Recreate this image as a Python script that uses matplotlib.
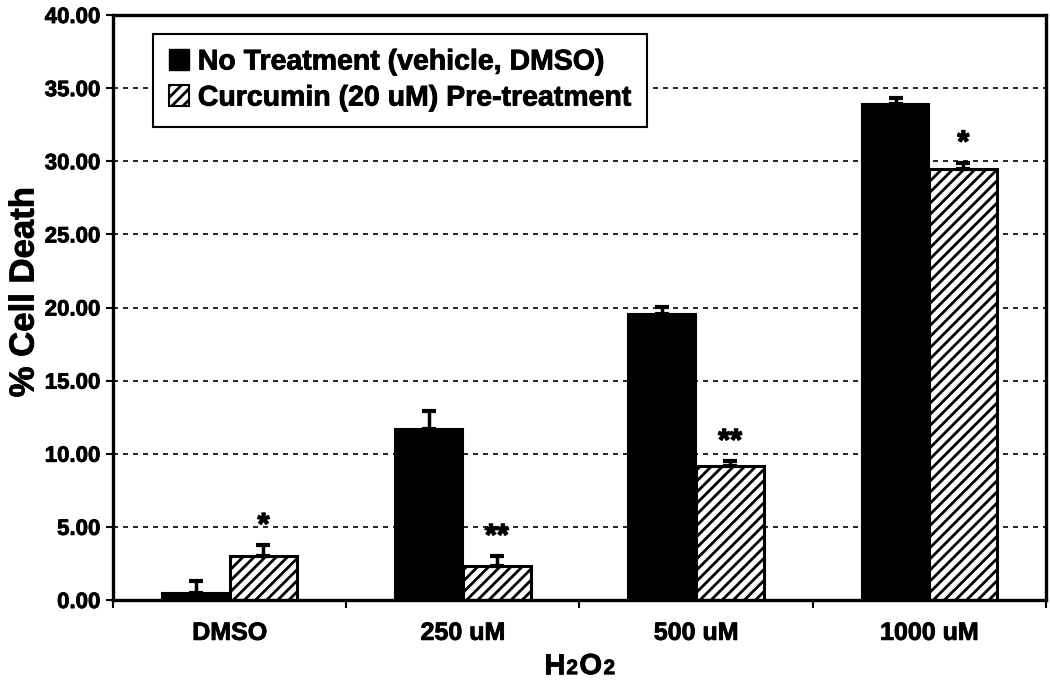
import numpy as np
import matplotlib
matplotlib.use("Agg")
import matplotlib.pyplot as plt
import matplotlib.patheffects as pe
from matplotlib.patches import Patch
from matplotlib.offsetbox import TextArea, HPacker, AnnotationBbox

plt.rcParams["font.family"] = ["Liberation Sans", "DejaVu Sans"]
plt.rcParams["font.weight"] = "bold"
plt.rcParams["hatch.linewidth"] = 2.0

# data
categories = ["DMSO", "250 uM", "500 uM", "1000 uM"]
no_treat = [0.5, 11.7, 19.55, 33.9]
no_treat_err = [0.8, 1.25, 0.5, 0.4]
curcumin = [3.0, 2.3, 9.15, 29.5]
curcumin_err = [0.75, 0.7, 0.35, 0.4]
signif = ["*", "**", "**", "*"]
yticks = [0, 5, 10, 15, 20, 25, 30, 35, 40]

heavy = [pe.withStroke(linewidth=0.6, foreground="black")]

fig = plt.figure(figsize=(10.5, 6.82), dpi=100)
ax = fig.add_axes([0.1076, 0.1202, 0.8886, 0.8578])

x = np.arange(len(categories))
w = 0.29

ax.bar(x - w / 2, no_treat, w, color="black", edgecolor="black",
       linewidth=1.5, zorder=3)
ax.bar(x + w / 2, curcumin, w, color="white", edgecolor="black",
       hatch="///", linewidth=2.2, zorder=3)

err_kw = dict(fmt="none", ecolor="black", elinewidth=2.5, capsize=5,
              capthick=3, zorder=4)
ax.errorbar(x - w / 2, no_treat, yerr=[[0] * 4, no_treat_err], **err_kw)
ax.errorbar(x + w / 2, curcumin, yerr=[[0] * 4, curcumin_err], **err_kw)

for xi, v, e, s in zip(x, curcumin, curcumin_err, signif):
    ax.annotate(s, (xi + w / 2, v + e), xytext=(0, 3),
                textcoords="offset points", ha="center", va="bottom",
                fontsize=22, fontweight="bold",
                path_effects=[pe.withStroke(linewidth=1.0,
                                            foreground="black")])

ax.set_xlim(-0.5, len(categories) - 0.5)
ax.set_ylim(0, 40)
ax.set_yticks(yticks)
ax.set_yticklabels([f"{t:.2f}" for t in yticks], fontsize=16,
                   fontweight="bold")
ax.set_xticks(x)
ax.set_xticklabels(categories, fontsize=18, fontweight="bold")
ax.set_xticks(np.arange(len(categories) + 1) - 0.5, minor=True)
ax.tick_params(axis="x", which="major", length=0, pad=15)
ax.tick_params(axis="x", which="minor", length=6, width=1.5,
               direction="out")
ax.tick_params(axis="y", length=5, width=1.5, direction="out", pad=4)
for lab in ax.get_xticklabels() + ax.get_yticklabels():
    lab.set_path_effects(heavy)

ax.yaxis.grid(True, color="black", linestyle=(0, (3, 3)), linewidth=1.2,
              zorder=0)
ax.set_axisbelow(True)
for sp in ax.spines.values():
    sp.set_linewidth(2.4)
    sp.set_zorder(5)

ax.set_ylabel("% Cell Death", fontsize=25, fontweight="bold", labelpad=3,
              path_effects=heavy)
ax.yaxis.label.set_y(0.526)

# x label "H2O2" with small digits sitting on the baseline
parts = [("H", 21), ("2", 15), ("O", 21), ("2", 15)]
areas = [TextArea(t, textprops=dict(fontsize=sz, fontweight="bold",
                                    path_effects=heavy))
         for t, sz in parts]
pack = HPacker(children=areas, align="baseline", pad=0, sep=1)
ab = AnnotationBbox(pack, (0.5, -0.113), xycoords="axes fraction",
                    box_alignment=(0.5, 0.5), frameon=False,
                    annotation_clip=False)
ax.add_artist(ab)

handles = [Patch(facecolor="black", edgecolor="black"),
           Patch(facecolor="white", edgecolor="black", hatch="///",
                 linewidth=1.5)]
leg = ax.legend(handles,
                ["No Treatment (vehicle, DMSO)",
                 "Curcumin (20 uM) Pre-treatment"],
                loc="upper left", bbox_to_anchor=(0.043, 0.968),
                borderaxespad=0, prop={"weight": "bold", "size": 20.5},
                handlelength=0.72, handleheight=0.72, handletextpad=0.3,
                labelspacing=0.35, borderpad=0.55, fancybox=False,
                framealpha=1, edgecolor="black")
leg.get_frame().set_linewidth(1.5)
leg.set_zorder(6)
for t in leg.get_texts():
    t.set_path_effects(heavy)

fig.savefig("out.png", dpi=100)
